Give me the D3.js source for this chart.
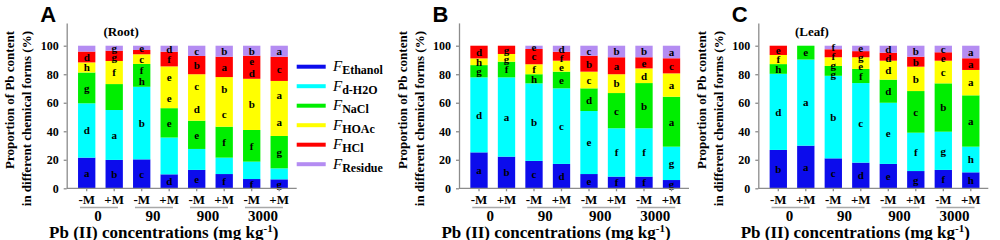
<!DOCTYPE html>
<html><head><meta charset="utf-8">
<script src="https://cdn.jsdelivr.net/npm/d3@7"></script>
<style>body{margin:0;background:#fff}svg{display:block}</style>
</head><body><svg id="c" width="1000" height="240"></svg>
<script>
const forms = ["Ethanol","d-H2O","NaCl","HOAc","HCl","Residue"];
const formColors = ["#0c0cec","#00ffff","#00ee00","#ffff00","#ff0000","#b48cf2"];
const treatments = ["-M","+M","-M","+M","-M","+M","-M","+M"];
const concentrations = ["0","90","900","3000"];
const yTicks = [0,20,40,60,80,100];

// values per bar, bottom to top: Ethanol, d-H2O, NaCl, HOAc, HCl, Residue (%)
const rootValues = [
  [21.5,38.1,21.6,7.1,7.6,4.1],
  [19.9,35.0,18.2,16.2,7.2,3.5],
  [20.3,50.9,16.0,6.8,3.0,3.0],
  [9.8,25.8,20.6,29.3,10.3,4.2],
  [12.9,14.7,19.8,32.6,12.8,7.2],
  [10.0,11.5,21.7,34.8,14.3,7.7],
  [6.5,12.2,22.2,35.9,16.2,7.0],
  [6.3,7.7,22.7,38.6,17.0,7.7]
];
const stemValues = [
  [25.2,52.6,8.6,4.7,8.9,0],
  [22.2,55.6,11.0,5.4,5.8,0],
  [19.2,54.4,6.4,7.0,10.7,2.3],
  [17.1,53.0,11.7,7.7,6.3,4.2],
  [10.0,44.2,15.9,11.7,11.2,7.0],
  [8.2,33.9,24.7,13.2,11.9,8.1],
  [8.2,33.9,31.7,10.3,7.8,8.1],
  [5.8,23.4,35.0,16.4,10.6,8.8]
];
const leafValues = [
  [26.9,53.4,6.8,6.4,6.5,0],
  [29.9,60.4,9.7,0,0,0],
  [21.0,57.9,6.9,6.1,5.6,2.5],
  [18.0,55.8,9.9,8.2,4.3,3.8],
  [17.1,42.9,16.2,13.3,5.6,4.9],
  [12.1,26.9,29.2,17.1,7.0,7.7],
  [12.9,26.8,33.9,15.9,5.9,4.6],
  [11.2,18.0,36.0,17.8,8.2,8.8]
];
// significance letters per segment (same order); several letters = stacked
const rootLetters = [
  ["a","d","g","h","d",""],
  ["b","a","","f","g","g"],
  ["c","b","fh","c","","e"],
  ["d","","e","ee","f","d"],
  ["e","","e","cd","b","c"],
  ["f","","f","bc","a","b"],
  ["f","","f","b","ed","b"],
  ["g","","g","aa","c","a"]
];
const stemLetters = [
  ["a","d","g","h","d",""],
  ["b","a","f","g","g",""],
  ["c","b","h","f","c","e"],
  ["d","c","e","e","f","d"],
  ["e","e","d","c","b","c"],
  ["f","f","c","b","a","b"],
  ["f","f","b","d","e","b"],
  ["g","g","a","a","c","a"]
];
const leafLetters = [
  ["b","d","h","f","e",""],
  ["a","a","e","","",""],
  ["c","b","g","g","f","f"],
  ["d","c","f","e","g","e"],
  ["e","e","d","d","d","d"],
  ["g","f","c","b","b","b"],
  ["f","g","b","c","e","c"],
  ["h","h","a","a","a","a"]
];

const SERIF = "'Liberation Serif','Times New Roman',serif";
const SANS = "'Liberation Sans',Arial,sans-serif";
const AXC = "#8c8c8c";
const svg = d3.select("#c");

const panels = [
  {letter:"A", note:"(Root)", values:rootValues, letters:rootLetters, ax:66.7},
  {letter:"B", note:"", values:stemValues, letters:stemLetters, ax:459},
  {letter:"C", note:"(Leaf)", values:leafValues, letters:leafLetters, ax:758.3}
];

const y = d3.scaleLinear().domain([0,116]).range([188.3,22.9]);

panels.forEach(p => {
  const g = svg.append("g");
  const x = d3.scaleBand().domain(d3.range(treatments.length))
    .range([p.ax+6.25, p.ax+226.25]).paddingInner(0.37).paddingOuter(0.185);
  const rows = p.values.map(v => Object.fromEntries(forms.map((f,k)=>[f,v[k]])));
  const series = d3.stack().keys(forms)(rows);

  // bars
  series.forEach((s,k) => {
    g.selectAll(null).data(s).join("rect")
      .attr("x",(d,i)=>x(i)).attr("width",x.bandwidth())
      .attr("y",d=>y(d[1])).attr("height",d=>Math.max(0,y(d[0])-y(d[1])))
      .attr("fill",formColors[k]);
  });

  // letters
  treatments.forEach((t,i) => {
    const items = [];
    for (let k=forms.length-1;k>=0;k--){
      const s = p.letters[i][k];
      if (!s) continue;
      const top = y(series[k][i][1]), bot = y(series[k][i][0]);
      const n = s.length;
      for (let j=0;j<n;j++) items.push({t:s[j], y: top + (j+0.5)*(bot-top)/n});
    }
    for (let m=1;m<items.length;m++){
      if (items[m].y - items[m-1].y < 9) items[m].y = items[m-1].y + 9;
    }
    g.selectAll(null).data(items).join("text")
      .attr("x", x(i)+x.bandwidth()/2).attr("y", d=>d.y).attr("dy","0.35em")
      .attr("text-anchor","middle").style("font",`bold 11px ${SERIF}`)
      .attr("fill","#000").text(d=>d.t);
  });

  // y axis
  const ya = g.append("g").attr("transform",`translate(${p.ax},0)`)
    .call(d3.axisLeft(y).tickValues(yTicks).tickSizeInner(3).tickSizeOuter(0).tickPadding(5));
  ya.selectAll("path,line").attr("stroke",AXC).attr("stroke-width",1.3);
  ya.selectAll("text").style("font",`bold 12px ${SERIF}`).attr("fill","#000");

  // x axis
  g.append("line").attr("x1",p.ax).attr("x2",p.ax+230).attr("y1",y(0)).attr("y2",y(0))
    .attr("stroke",AXC).attr("stroke-width",1.3);
  const xa = g.append("g").attr("transform",`translate(0,${y(0)})`)
    .call(d3.axisBottom(x).tickFormat(i=>treatments[i]).tickSizeInner(3).tickSizeOuter(0).tickPadding(3));
  xa.select(".domain").remove();
  xa.selectAll("line").attr("stroke",AXC).attr("stroke-width",1.3);
  xa.selectAll("text").style("font",`bold 13px ${SERIF}`).attr("fill","#000");

  // concentration groups
  concentrations.forEach((c,gi) => {
    const cx = (x(2*gi)+x(2*gi+1)+x.bandwidth())/2;
    g.append("line").attr("x1",cx-1.5-19).attr("x2",cx-1.5+19)
      .attr("y1",207.5).attr("y2",207.5).attr("stroke","#a8a8a8").attr("stroke-width",1.5);
    g.append("text").attr("x",cx-2.5).attr("y",220.7).attr("text-anchor","middle")
      .style("font",`bold 15px ${SERIF}`).text(c);
  });

  // x title
  const xt = g.append("text").attr("x",p.ax+97).attr("y",237.5).attr("text-anchor","middle")
    .style("font",`bold 17px ${SERIF}`);
  xt.append("tspan").text("Pb (II) concentrations (mg kg");
  xt.append("tspan").attr("dy",-6).style("font-size","11px").text("-1");
  xt.append("tspan").attr("dy",6).text(")");

  // y title
  const yt = g.append("text").attr("transform",`translate(${p.ax-57},31) rotate(-90)`)
    .attr("text-anchor","end").style("font",`bold 13px ${SERIF}`);
  yt.append("tspan").attr("x",0).attr("y",4.5).text("Proportion of Pb content");
  yt.append("tspan").attr("x",0).attr("y",21.5).text("in different chemical forms (%)");

  // panel letter & note
  g.append("text").attr("x",p.ax-26.5).attr("y",21.8).style("font",`bold 22px ${SANS}`).text(p.letter);
  if (p.note) g.append("text").attr("x",p.ax+36.7).attr("y",35.5)
    .style("font",`bold 13px ${SERIF}`).text(p.note);
});

// legend
const lg = svg.append("g");
forms.forEach((f,k) => {
  const cy = 66.7 + k*19.5;
  lg.append("line").attr("x1",296.7).attr("x2",325.7).attr("y1",cy).attr("y2",cy)
    .attr("stroke",formColors[k]).attr("stroke-width",4);
  const t = lg.append("text").attr("x",333).attr("y",cy+4.5);
  t.append("tspan").style("font",`italic 15px ${SERIF}`).text("F");
  t.append("tspan").attr("dy",3).style("font",`bold 12px ${SERIF}`).text(f);
});
</script></body></html>
